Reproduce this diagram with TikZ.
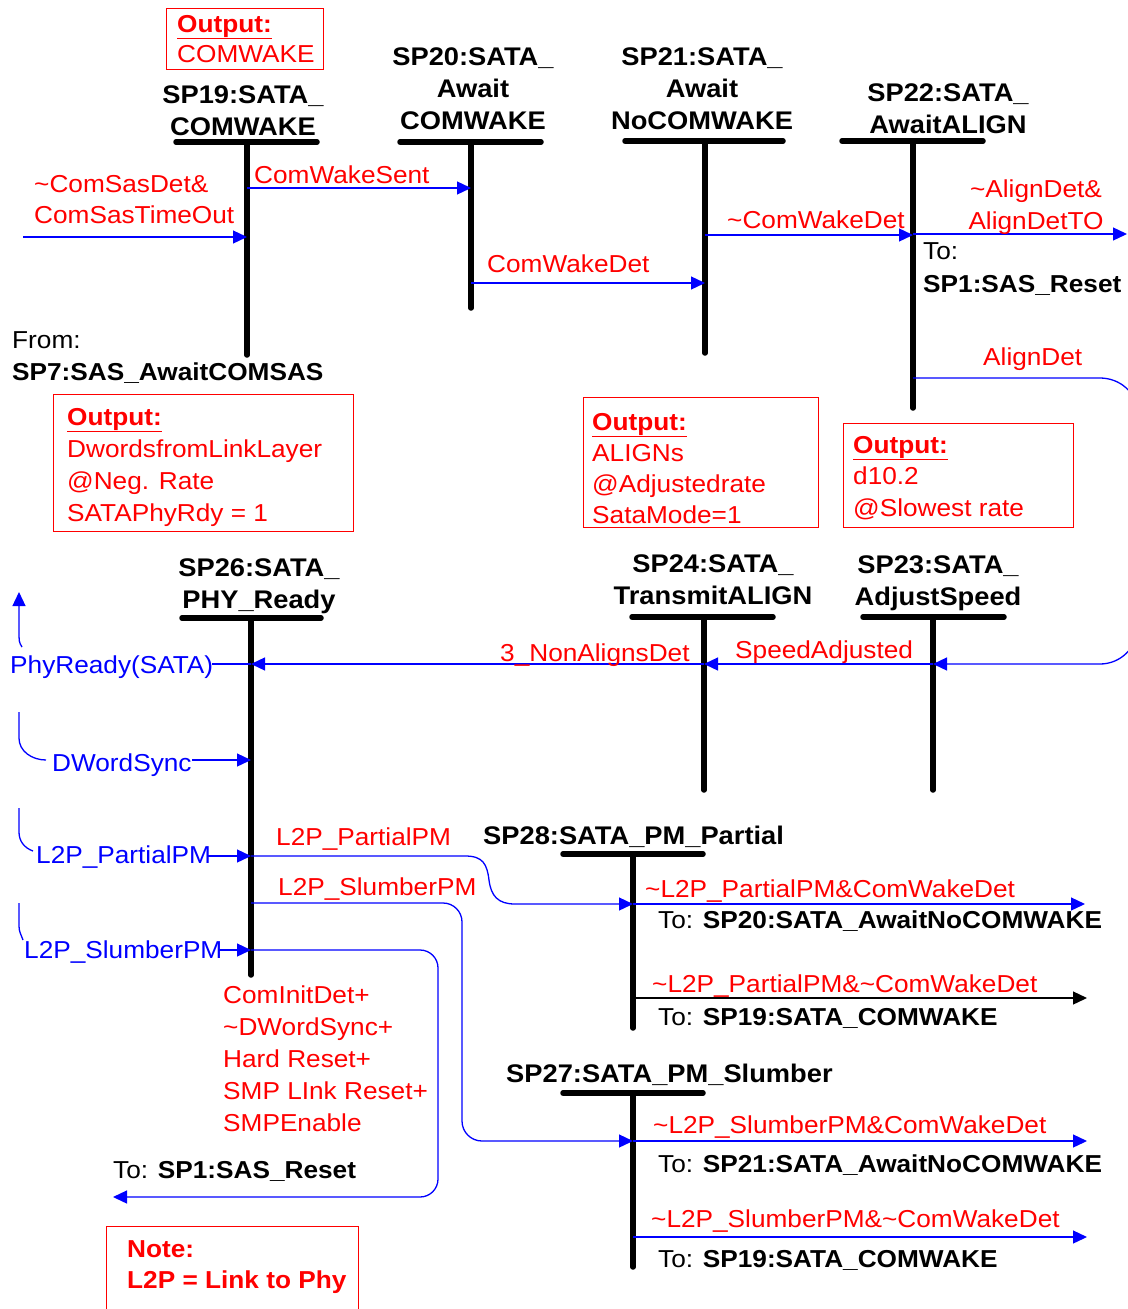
\documentclass[tikz,border=0pt]{standalone}
\usepackage{fontspec}
\setmainfont{Liberation Sans}[FakeStretch=1.07]
\usetikzlibrary{arrows.meta}
\definecolor{rd}{RGB}{255,0,0}
\definecolor{bl}{RGB}{0,0,255}
\newcommand\tl{\textasciitilde}
\newcommand\rfont{\fontsize{24.5}{32}\selectfont}
\newcommand\bfont{\fontsize{25.5}{32}\selectfont\bfseries}
\begin{document}
\begin{tikzpicture}[x=1pt,y=-1pt,
  life/.style={line width=5.5pt,line cap=round},
  sig/.style={draw=bl,line width=1.3pt},
  arr/.style={sig,-{Triangle[length=14pt,width=13pt]}},
  karr/.style={draw=black,line width=1.3pt,-{Triangle[length=14pt,width=13pt]}},
  lab/.style={anchor=base west,inner sep=0pt,font=\rfont,align=left},
  rlab/.style={lab,text=rd},
  blab/.style={lab,text=bl},
  klab/.style={lab,text=black},
  ttl/.style={anchor=base,inner sep=0pt,font=\bfont,align=center},
  obox/.style={draw=rd,line width=1.2pt},
]
\useasboundingbox[fill=white] (0,0) rectangle (1127,1309);

% ---------- states (base anchor = baseline of last line) ----------
% SP19
\node[ttl] (t19) at (243,135) {SP19:SATA\_\\COMWAKE};
\coordinate (s19a) at (176,142); \coordinate (s19b) at (317,142);
\coordinate (s19) at (247,142); \coordinate (s19e) at (247,355);
\draw[life] (s19a) -- (s19b); \draw[life] (s19) -- (s19e);
% SP20
\node[ttl] (t20) at (473,129) {SP20:SATA\_\\Await\\COMWAKE};
\coordinate (s20a) at (400,142); \coordinate (s20b) at (541,142);
\coordinate (s20) at (471,142); \coordinate (s20e) at (471,308);
\draw[life] (s20a) -- (s20b); \draw[life] (s20) -- (s20e);
% SP21
\node[ttl] (t21) at (702,129) {SP21:SATA\_\\Await\\NoCOMWAKE};
\coordinate (s21a) at (625,141); \coordinate (s21b) at (783,141);
\coordinate (s21) at (705,141); \coordinate (s21e) at (705,353);
\draw[life] (s21a) -- (s21b); \draw[life] (s21) -- (s21e);
% SP22
\node[ttl] (t22) at (948,133) {SP22:SATA\_\\AwaitALIGN};
\coordinate (s22a) at (842,141); \coordinate (s22b) at (983,141);
\coordinate (s22) at (913,141); \coordinate (s22e) at (913,408);
\draw[life] (s22a) -- (s22b); \draw[life] (s22) -- (s22e);
% SP26
\node[ttl] (t26) at (259,608) {SP26:SATA\_\\PHY\_Ready};
\coordinate (s26a) at (182,618); \coordinate (s26b) at (321,618);
\coordinate (s26) at (251,618); \coordinate (s26e) at (251,975);
\draw[life] (s26a) -- (s26b); \draw[life] (s26) -- (s26e);
% SP24
\node[ttl] (t24) at (713,604) {SP24:SATA\_\\TransmitALIGN};
\coordinate (s24a) at (632,617); \coordinate (s24b) at (773,617);
\coordinate (s24) at (704,617); \coordinate (s24e) at (704,790);
\draw[life] (s24a) -- (s24b); \draw[life] (s24) -- (s24e);
% SP23
\node[ttl] (t23) at (938,605) {SP23:SATA\_\\AdjustSpeed};
\coordinate (s23a) at (863,617); \coordinate (s23b) at (1004,617);
\coordinate (s23) at (933,617); \coordinate (s23e) at (933,790);
\draw[life] (s23a) -- (s23b); \draw[life] (s23) -- (s23e);
% SP28
\node[ttl,anchor=base west] (t28) at (483,844) {SP28:SATA\_PM\_Partial};
\coordinate (s28a) at (563,854); \coordinate (s28b) at (703,854);
\coordinate (s28) at (633,854); \coordinate (s28e) at (633,1028);
\draw[life] (s28a) -- (s28b); \draw[life] (s28) -- (s28e);
% SP27
\node[ttl,anchor=base west] (t27) at (506,1082) {SP27:SATA\_PM\_Slumber};
\coordinate (s27a) at (563,1093); \coordinate (s27b) at (703,1093);
\coordinate (s27) at (633,1093); \coordinate (s27e) at (633,1267);
\draw[life] (s27a) -- (s27b); \draw[life] (s27) -- (s27e);

% ---------- output boxes ----------
\node[obox,anchor=north west,minimum width=157pt,minimum height=61pt,inner sep=0pt] (box1) at (166,8) {};
\node[rlab] (box1t) at (177,62) {\underline{\textbf{Output:}}\\[-2pt]COMWAKE};
\node[obox,anchor=north west,minimum width=300pt,minimum height=137pt,inner sep=0pt] (box2) at (53,394) {};
\node[rlab] (box2t) at (67,521) {\underline{\textbf{Output:}}\\DwordsfromLinkLayer\\@Neg. Rate\\SATAPhyRdy = 1};
\node[obox,anchor=north west,minimum width=235pt,minimum height=130pt,inner sep=0pt] (box3) at (583,397) {};
\node[rlab] (box3t) at (592,523) {\underline{\textbf{Output:}}\\[-1pt]ALIGNs\\[-1pt]@Adjustedrate\\[-1pt]SataMode=1};
\node[obox,anchor=north west,minimum width=230pt,minimum height=104pt,inner sep=0pt] (box4) at (843,423) {};
\node[rlab] (box4t) at (853,516) {\underline{\textbf{Output:}}\\[-1pt]d10.2\\@Slowest rate};
\node[obox,anchor=north west,minimum width=252pt,minimum height=95pt,inner sep=0pt] (note) at (106,1226) {};
\node[rlab,font=\rfont\bfseries] (notet) at (127,1288) {Note:\\[-1pt]L2P = Link to Phy};

% ---------- transitions, top ----------
\node[klab] (from) at (12,380) {From:\\\textbf{SP7:SAS\_AwaitCOMSAS}};
\coordinate (in19) at (23,237);
\draw[arr] (in19) -- (in19 -| s19);
\node[rlab] (l1) at (34,223) {\tl ComSasDet\&\\[-1pt]ComSasTimeOut};

\coordinate (o19) at (247,188);
\draw[arr] (o19) -- (o19 -| s20);
\node[rlab] (l2) at (254,183) {ComWakeSent};

\coordinate (o20) at (471,283);
\draw[arr] (o20) -- (o20 -| s21);
\node[rlab] (l3) at (487,272) {ComWakeDet};

\coordinate (o21) at (705,235);
\draw[arr] (o21) -- (o21 -| s22);
\node[rlab] (l4) at (727,228) {\tl ComWakeDet};

\coordinate (o22) at (913,234); \coordinate (x22) at (1127,234);
\draw[arr] (o22) -- (x22);
\node[ttl,font=\rfont,text=rd] (l5) at (1036,229) {\tl AlignDet\&\\AlignDetTO};
\node[klab] (to22) at (923,292) {To:\\[1pt]\textbf{SP1:SAS\_Reset}};

\coordinate (o22b) at (913,378); \coordinate (in23) at (933,664);
\draw[arr] (o22b) -- (1100,378) to[out=0,in=90] (1137,412) -- (1137,628) to[out=-90,in=0] (1100,664) -- (in23);
\node[rlab] (l6) at (983,365) {AlignDet};

% ---------- middle row ----------
\draw[arr] (in23) -- (in23 -| s24);
\node[rlab] (l7) at (735,658) {SpeedAdjusted};
\coordinate (o24) at (704,664);
\draw[arr] (o24) -- (o24 -| s26);
\node[rlab] (l8) at (500,661) {3\_NonAlignsDet};

\coordinate (o26a) at (251,664); \coordinate (pr) at (212,664);
\draw[sig] (o26a) -- (pr);
\node[blab] (l9) at (10,673) {PhyReady(SATA)};
\coordinate (up0) at (22,647); \coordinate (up1) at (19,592);
\draw[arr] (up0) .. controls (19,642) .. (19,630) -- (up1);

% inputs into SP26
\coordinate (dw0) at (19,712); \coordinate (dw) at (192,760);
\draw[sig] (dw0) -- (19,738) to[out=-90,in=180] (46,760);
\node[blab] (l10) at (52,771) {DWordSync};
\draw[arr] (dw) -- (dw -| s26);

\coordinate (pp0) at (19,808); \coordinate (pp) at (208,856);
\draw[sig] (pp0) -- (19,832) to[out=-90,in=160] (33,851);
\node[blab] (l11) at (36,863) {L2P\_PartialPM};
\draw[arr] (pp) -- (pp -| s26);

\coordinate (sp0) at (19,903); \coordinate (sp) at (218,950);
\draw[sig] (sp0) -- (19,926) to[out=-90,in=110] (23,940);
\node[blab] (l12) at (24,958) {L2P\_SlumberPM};
\draw[arr] (sp) -- (sp -| s26);

% reset path
\coordinate (rs0) at (251,950); \coordinate (rs1) at (113,1197);
\draw[arr] (rs0) -- (420,950) to[out=0,in=90] (438,968) -- (438,1179) to[out=-90,in=0] (420,1197) -- (rs1);
\node[rlab] (l13) at (223,1131) {ComInitDet+\\\tl DWordSync+\\Hard Reset+\\SMP LInk Reset+\\SMPEnable};
\node[klab] (to26) at (113,1178) {To: \textbf{SP1:SAS\_Reset}};

% SP26 -> SP28 / SP27
\coordinate (pp2) at (251,856); \coordinate (in28) at (633,904);
\draw[arr] (pp2) -- (465,856) .. controls (483,856) and (487,864) .. (489,880) .. controls (491,896) and (498,904) .. (515,904) -- (in28);
\node[rlab] (l14) at (276,845) {L2P\_PartialPM};

\coordinate (sp2) at (251,903); \coordinate (in27) at (633,1141);
\draw[arr] (sp2) -- (443,903) to[out=0,in=90] (462,922) -- (462,1121) to[out=-90,in=180] (482,1141) -- (in27);
\node[rlab] (l15) at (278,895) {L2P\_SlumberPM};

% SP28 exits
\coordinate (x28a) at (1085,904);
\draw[arr] (in28) -- (x28a);
\node[rlab] (l16) at (645,897) {\tl L2P\_PartialPM\&ComWakeDet};
\node[klab] (to28a) at (658,928) {To: \textbf{SP20:SATA\_AwaitNoCOMWAKE}};
\coordinate (o28b) at (633,998); \coordinate (x28b) at (1087,998);
\draw[karr] (o28b) -- (x28b);
\node[rlab] (l17) at (652,992) {\tl L2P\_PartialPM\&\tl ComWakeDet};
\node[klab] (to28b) at (658,1025) {To: \textbf{SP19:SATA\_COMWAKE}};

% SP27 exits
\coordinate (x27a) at (1087,1141);
\draw[arr] (in27) -- (x27a);
\node[rlab] (l18) at (653,1133) {\tl L2P\_SlumberPM\&ComWakeDet};
\node[klab] (to27a) at (658,1172) {To: \textbf{SP21:SATA\_AwaitNoCOMWAKE}};
\coordinate (o27b) at (633,1237); \coordinate (x27b) at (1087,1237);
\draw[arr] (o27b) -- (x27b);
\node[rlab] (l19) at (651,1227) {\tl L2P\_SlumberPM\&\tl ComWakeDet};
\node[klab] (to27b) at (658,1267) {To: \textbf{SP19:SATA\_COMWAKE}};
\end{tikzpicture}
\end{document}
